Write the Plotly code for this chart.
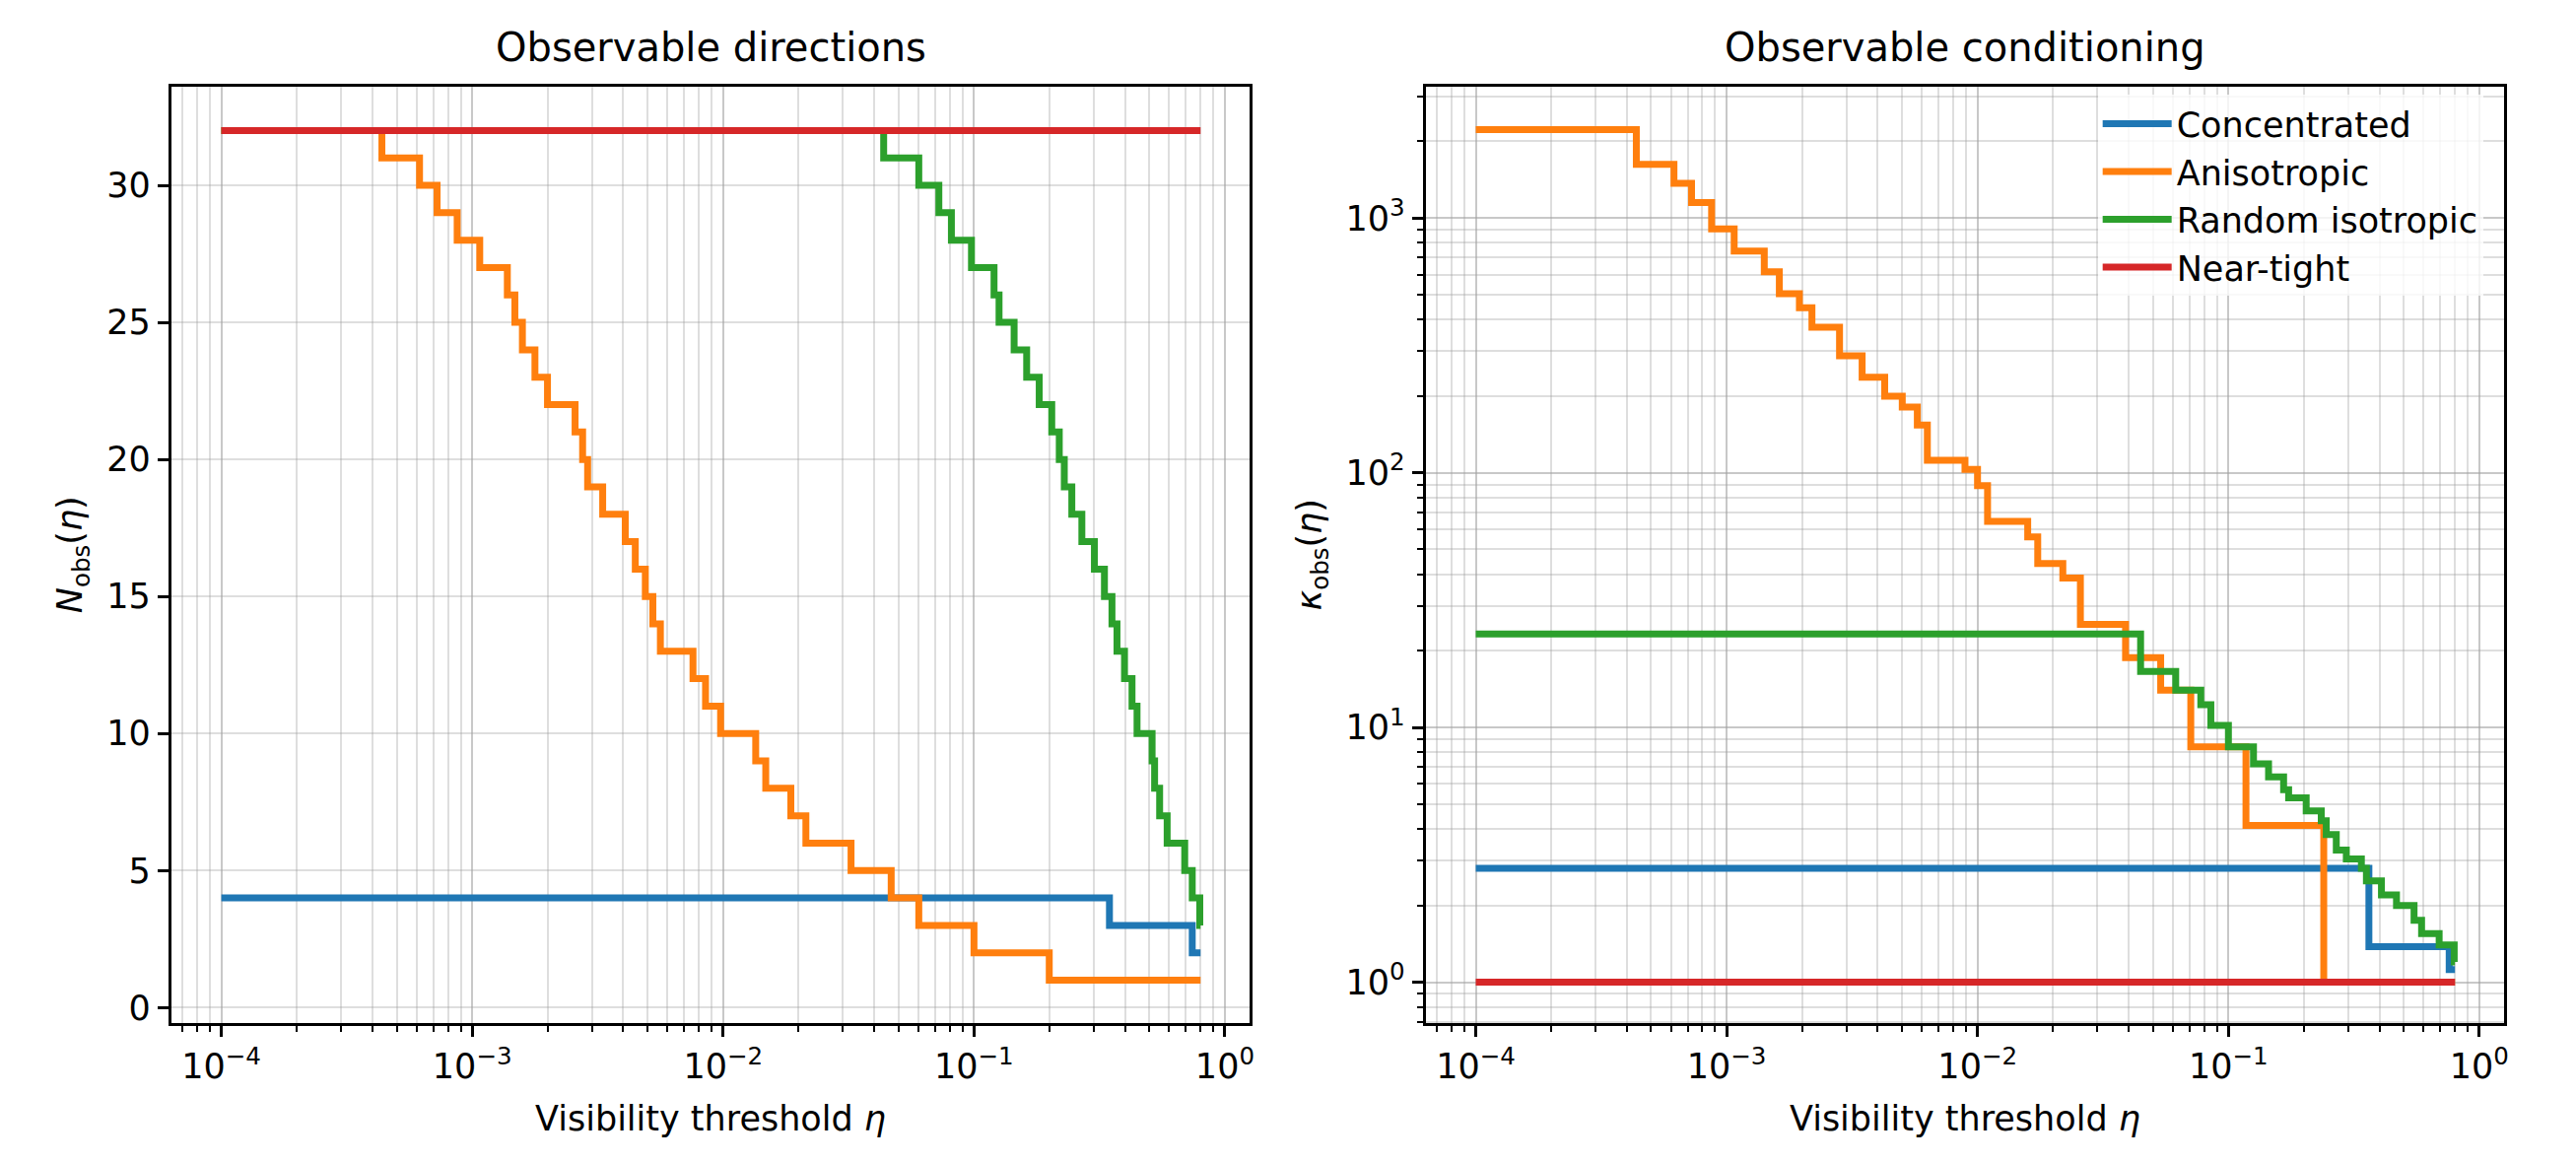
import numpy as np
import plotly.graph_objects as go

ETA_END = 0.8
names = ["Concentrated", "Anisotropic", "Random isotropic", "Near-tight"]
colors = ["#1f77b4", "#ff7f0e", "#2ca02c", "#d62728"]

# Left panel: N_obs step functions (log10 eta where level starts, level)
n_conc_x = [-4, -0.46, -0.13]
n_conc_y = [4, 3, 2]
n_aniso_x = [-4, -3.36, -3.21, -3.14, -3.06, -2.97, -2.86, -2.83, -2.80, -2.75, -2.70, -2.59, -2.56,
             -2.54, -2.48, -2.39, -2.35, -2.31, -2.28, -2.25, -2.12, -2.07, -2.01, -1.87, -1.83,
             -1.73, -1.67, -1.49, -1.33, -1.22, -1.0, -0.70]
n_aniso_y = [32, 31, 30, 29, 28, 27, 26, 25, 24, 23, 22, 21, 20, 19, 18, 17, 16, 15, 14, 13, 12,
             11, 10, 9, 8, 7, 6, 5, 4, 3, 2, 1]
n_rand_x = [-4, -1.36, -1.22, -1.14, -1.09, -1.01, -0.92, -0.90, -0.84, -0.79, -0.74, -0.69, -0.66,
            -0.64, -0.61, -0.57, -0.52, -0.48, -0.45, -0.43, -0.40, -0.37, -0.35, -0.29, -0.28,
            -0.26, -0.23, -0.16, -0.13, -0.10]
n_rand_y = [32, 31, 30, 29, 28, 27, 26, 25, 24, 23, 22, 21, 20, 19, 18, 17, 16, 15, 14, 13, 12, 11,
            10, 9, 8, 7, 6, 5, 4, 3]
n_tight_x = [-4]
n_tight_y = [32]

# Right panel: kappa_obs step functions
k_conc_x = [-4, -0.44, -0.12]
k_conc_y = [2.8, 1.38, 1.12]
k_aniso_x = [-4, -3.36, -3.21, -3.14, -3.06, -2.97, -2.85, -2.79, -2.71, -2.66, -2.55, -2.46, -2.37,
             -2.30, -2.24, -2.20, -2.05, -2.00, -1.96, -1.80, -1.76, -1.66, -1.59, -1.41, -1.27,
             -1.15, -0.93, -0.62]
k_aniso_y = [2225, 1625, 1370, 1150, 906, 742, 615, 505, 445, 373, 288, 237, 200, 181, 154, 112,
             103, 89, 64.5, 56, 44, 38.6, 25.4, 18.8, 14, 8.4, 4.13, 1.0]
k_rand_x = [-4, -1.35, -1.21, -1.11, -1.07, -1.0, -0.90, -0.84, -0.78, -0.76, -0.69, -0.63, -0.61,
            -0.57, -0.53, -0.47, -0.45, -0.39, -0.33, -0.26, -0.23, -0.16, -0.10]
k_rand_y = [23.3, 16.6, 14, 12.3, 10.2, 8.4, 7.2, 6.4, 5.7, 5.3, 4.7, 4.3, 3.8, 3.3, 3.05, 2.8, 2.5,
            2.2, 2.0, 1.75, 1.55, 1.4, 1.2]
k_tight_x = [-4]
k_tight_y = [1.0]

x_tickvals = [1e-4, 1e-3, 1e-2, 1e-1, 1e0]
x_ticktext = ["10<sup>−4</sup>", "10<sup>−3</sup>", "10<sup>−2</sup>", "10<sup>−1</sup>", "10<sup>0</sup>"]
k_tickvals = [1, 10, 100, 1000]
k_ticktext = ["10<sup>0</sup>", "10<sup>1</sup>", "10<sup>2</sup>", "10<sup>3</sup>"]


def step(xs, ys):
    ex = [10 ** v for v in xs] + [ETA_END]
    ey = list(ys) + [ys[-1]]
    return ex, ey


fig = go.Figure()
left = [(n_conc_x, n_conc_y), (n_aniso_x, n_aniso_y), (n_rand_x, n_rand_y), (n_tight_x, n_tight_y)]
right = [(k_conc_x, k_conc_y), (k_aniso_x, k_aniso_y), (k_rand_x, k_rand_y), (k_tight_x, k_tight_y)]
for i, (xs, ys) in enumerate(left):
    ex, ey = step(xs, ys)
    fig.add_trace(go.Scatter(x=ex, y=ey, mode="lines", line=dict(color=colors[i], width=7, shape="hv"),
                             name=names[i], showlegend=False, xaxis="x", yaxis="y"))
for i, (xs, ys) in enumerate(right):
    ex, ey = step(xs, ys)
    fig.add_trace(go.Scatter(x=ex, y=ey, mode="lines", line=dict(color=colors[i], width=7, shape="hv"),
                             name=names[i], showlegend=True, xaxis="x2", yaxis="y2"))

font = dict(family="DejaVu Sans", size=35, color="black")
grid = "rgba(160,160,160,0.35)"
common = dict(showline=True, linecolor="black", linewidth=2.5, mirror=True, ticks="outside",
              ticklen=12, tickwidth=2.5, tickcolor="black", showgrid=True, gridcolor=grid,
              gridwidth=2, zeroline=False, tickfont=font)
xcommon = dict(common, type="log", range=[-4.197, 0.097], tickvals=x_tickvals, ticktext=x_ticktext,
               title=dict(text="Visibility threshold <i>η</i>", font=font, standoff=22),
               minor=dict(ticks="outside", ticklen=7, tickwidth=1.8, tickcolor="black",
                          showgrid=True, gridcolor=grid, gridwidth=1.5, dtick="D1"))

LD = [0.0638, 0.4828]
RD = [0.5517, 0.9707]
fig.update_layout(
    width=2614, height=1180, paper_bgcolor="white", plot_bgcolor="white",
    margin=dict(l=0, r=0, t=0, b=0), font=font,
    xaxis=dict(xcommon, domain=LD, anchor="y"),
    xaxis2=dict(xcommon, domain=RD, anchor="y2"),
    yaxis=dict(common, domain=[0.1237, 0.932], range=[-0.55, 33.6], tickvals=[0, 5, 10, 15, 20, 25, 30],
               title=dict(text="<i>N</i><sub>obs</sub>(<i>η</i>)", font=font, standoff=14), anchor="x"),
    yaxis2=dict(common, domain=[0.1237, 0.932], type="log", range=[-0.159, 3.516],
                tickvals=k_tickvals, ticktext=k_ticktext,
                title=dict(text="<i>κ</i><sub>obs</sub>(<i>η</i>)", font=font, standoff=14), anchor="x2",
                minor=dict(ticks="outside", ticklen=7, tickwidth=1.8, tickcolor="black",
                           showgrid=True, gridcolor=grid, gridwidth=1.5, dtick="D1")),
    legend=dict(x=RD[1] - 0.008, y=0.925, xanchor="right", yanchor="top", bgcolor="rgba(255,255,255,0.8)",
                font=dict(family="DejaVu Sans", size=35), itemwidth=70, tracegroupgap=4),
    annotations=[
        dict(text="Observable directions", x=sum(LD) / 2, y=0.945, xref="paper", yref="paper",
             xanchor="center", yanchor="bottom", showarrow=False, font=dict(family="DejaVu Sans", size=40)),
        dict(text="Observable conditioning", x=sum(RD) / 2, y=0.945, xref="paper", yref="paper",
             xanchor="center", yanchor="bottom", showarrow=False, font=dict(family="DejaVu Sans", size=40)),
    ],
)
fig.write_html("out.html")
